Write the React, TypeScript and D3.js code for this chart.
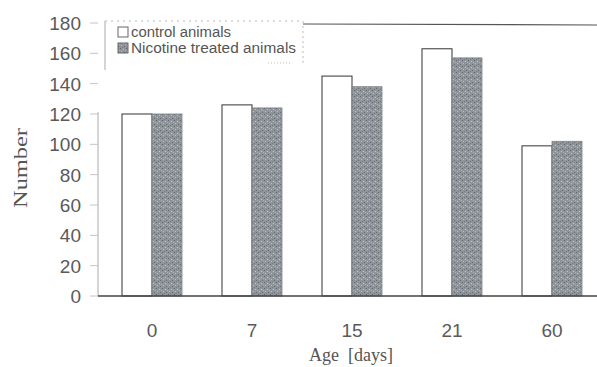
import React from "react";
import * as d3 from "d3";

const ages = ["0", "7", "15", "21", "60"];
const control = [120, 126, 145, 163, 99];
const nicotine = [120, 124, 138, 157, 102];
const yTicks = [0, 20, 40, 60, 80, 100, 120, 140, 160, 180];
const seriesNames = ["control animals", "Nicotine treated animals"];

const W = 597;
const H = 367;

export default function App() {
  const x0 = d3.scaleBand<string>().domain(ages).range([102, 602]).padding(0);
  const step = x0.bandwidth();
  const groupW = step * 0.6;
  const inner = d3.scaleBand<string>().domain(["c", "n"]).range([0, groupW]);
  const y = d3.scaleLinear().domain([0, 180]).range([296, 23]);
  const sans = "'Liberation Sans', Arial, sans-serif";
  const serif = "'Liberation Serif', 'Times New Roman', serif";
  const groupStart = (a: string) => (x0(a) as number) + step * 0.2;

  return (
    <svg width={W} height={H} style={{ position: "absolute", left: 0, top: 0, background: "#fff" }}>
      <defs>
        <pattern id="speck" width="6" height="6" patternUnits="userSpaceOnUse">
          <rect width="6" height="6" fill="#90959b" />
          <rect x="0" y="0" width="1" height="1" fill="#5f656b" />
          <rect x="3" y="1" width="1" height="1" fill="#c3c7cb" />
          <rect x="1" y="3" width="1" height="1" fill="#b9bdc2" />
          <rect x="4" y="4" width="1" height="1" fill="#666b71" />
          <rect x="2" y="5" width="1" height="1" fill="#767b81" />
          <rect x="5" y="2" width="1" height="1" fill="#a9adb2" />
        </pattern>
      </defs>

      {/* frame / legend box */}
      <line x1={303} x2={W} y1={24} y2={25} stroke="#555" strokeWidth={1.2} />
      <line x1={105} x2={303} y1={21} y2={21} stroke="#bbb" strokeDasharray="2,4" />
      <line x1={105} x2={105} y1={21} y2={70} stroke="#aaa" strokeWidth={1} />
      <line x1={303} x2={303} y1={21} y2={63} stroke="#bbb" strokeDasharray="2,3" />

      {/* y axis */}
      <line x1={98} x2={98} y1={y(120) - 2} y2={y(0)} stroke="#aaa" strokeWidth={1} />
      {yTicks.map((t) => (
        <g key={t}>
          <line x1={90} x2={98} y1={y(t)} y2={y(t)} stroke="#c4c4c4" strokeWidth={1} />
          <text x={81} y={y(t)} dy="0.36em" textAnchor="end" fontFamily={sans} fontSize={19} fill="#5a5a5a">
            {t}
          </text>
        </g>
      ))}

      {/* bars */}
      {ages.map((a, i) => {
        const gx = groupStart(a);
        return (
          <g key={a}>
            <rect
              x={gx + (inner("c") as number)}
              y={y(control[i])}
              width={inner.bandwidth()}
              height={y(0) - y(control[i])}
              fill="#fff"
              stroke="#333"
              strokeWidth={1}
            />
            <rect
              x={gx + (inner("n") as number)}
              y={y(nicotine[i])}
              width={inner.bandwidth()}
              height={y(0) - y(nicotine[i])}
              fill="url(#speck)"
              stroke="#7d8288"
              strokeWidth={0.8}
            />
            <text
              x={gx + groupW / 2}
              y={330}
              dy="0.36em"
              textAnchor="middle"
              fontFamily={sans}
              fontSize={19}
              fill="#5a5a5a"
            >
              {a}
            </text>
          </g>
        );
      })}

      {/* x axis baseline */}
      <line x1={98} x2={W} y1={y(0)} y2={y(0)} stroke="#444" strokeWidth={1.5} />

      {/* axis titles */}
      <text x={351} y={361} textAnchor="middle" fontFamily={serif} fontSize={18} fill="#555" xmlSpace="preserve">
        Age  [days]
      </text>
      <text
        transform="translate(27,168) rotate(-90)"
        textAnchor="middle"
        fontFamily={serif}
        fontSize={18}
        fill="#555"
        textLength={80}
        lengthAdjust="spacingAndGlyphs"
      >
        Number
      </text>

      {/* legend */}
      <rect x={118} y={27} width={10} height={10} fill="#fff" stroke="#666" strokeWidth={1} />
      <text x={131} y={32} dy="0.36em" fontFamily={sans} fontSize={14} fill="#555" textLength={100} lengthAdjust="spacingAndGlyphs">
        {seriesNames[0]}
      </text>
      <rect x={118} y={43} width={10} height={10} fill="url(#speck)" stroke="#666" strokeWidth={1} />
      <text x={131} y={48} dy="0.36em" fontFamily={sans} fontSize={14} fill="#555" textLength={165} lengthAdjust="spacingAndGlyphs">
        {seriesNames[1]}
      </text>
      <line x1={268} x2={292} y1={63} y2={63} stroke="#bbb" strokeDasharray="1,2" />
    </svg>
  );
}
